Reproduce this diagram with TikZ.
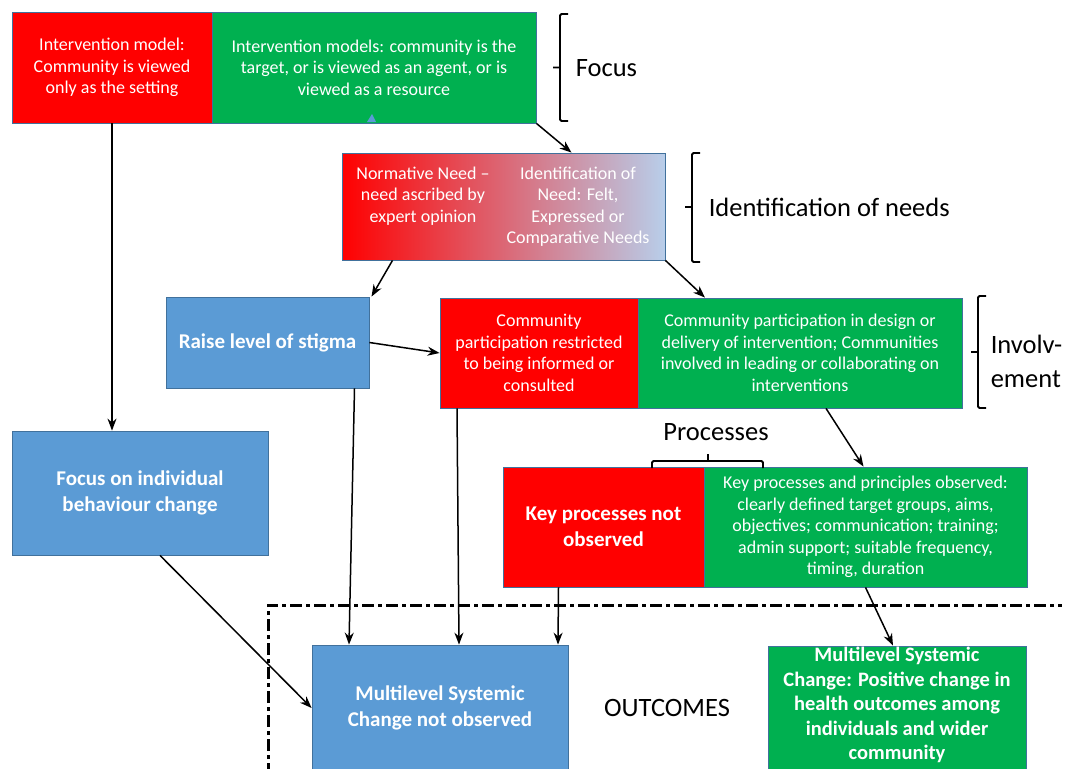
\documentclass[tikz,border=0pt]{standalone}
\usepackage{fontspec}
\setmainfont{Carlito}
\usetikzlibrary{arrows.meta}
\definecolor{boxred}{RGB}{255,0,0}
\definecolor{boxgreen}{RGB}{0,176,80}
\definecolor{boxblue}{RGB}{91,155,213}
\definecolor{boxedge}{RGB}{65,113,156}
\definecolor{paleblue}{RGB}{184,206,234}
\begin{document}
\begin{tikzpicture}[
  x=1pt, y=-1pt,
  box/.style={draw=boxedge,line width=0.8pt,inner sep=0pt,align=center,
    text=white,font=\fontsize{18}{21.5}\selectfont},
  redbox/.style={box,fill=boxred},
  greenbox/.style={box,fill=boxgreen},
  bluebox/.style={box,fill=boxblue,font=\fontsize{21}{25.5}\selectfont\bfseries},
  boldtext/.style={font=\fontsize{21}{25.5}\selectfont\bfseries},
  side/.style={font=\fontsize{26.5}{34}\selectfont,align=left,inner sep=0pt},
  bracket/.style={-,line width=1.8pt,rounded corners=1.5pt},
  ->, >={Stealth[length=12pt,width=9pt]}, line width=1.5pt
]
  \clip (0,0) rectangle (1065,768);
  \fill[white] (0,0) rectangle (1065,768);

  % focus row
  \node[redbox,minimum width=200,minimum height=111] (setting) at (112,67.5)
    {Intervention model:\\Community is viewed\\only as the setting};
  \node[greenbox,minimum width=324,minimum height=111] (models) at (374,67.5)
    {Intervention models: community is the\\target, or is viewed as an agent, or is\\viewed as a resource};
  \fill[boxblue] (367,122) -- (372,114) -- (376,122) -- cycle;

  % needs
  \node[box,left color=boxred,right color=paleblue,minimum width=323,minimum height=107]
    (needs) at (503.5,206.5) {};
  \node[align=center,text=white,inner sep=0pt,font=\fontsize{18}{21.5}\selectfont]
    (normative) at (423,196) {Normative Need --\\need ascribed by\\expert opinion};
  \node[align=center,text=white,inner sep=0pt,font=\fontsize{18}{21.5}\selectfont]
    (felt) at (578,206.5) {Identification of\\Need: Felt,\\Expressed or\\Comparative Needs};

  % involvement
  \node[bluebox,minimum width=203,minimum height=91] (stigma) at (267.5,342.5)
    {Raise level of stigma};
  \node[redbox,minimum width=198,minimum height=110] (consult) at (539,353)
    {Community\\participation restricted\\to being informed or\\consulted};
  \node[greenbox,minimum width=324,minimum height=110] (part) at (800,353)
    {Community participation in design or\\delivery of intervention; Communities\\involved in leading or collaborating on\\interventions};

  % processes
  \node[bluebox,minimum width=256,minimum height=124] (indiv) at (140,493)
    {Focus on individual\\behaviour change};
  \node[redbox,boldtext,minimum width=201,minimum height=120] (notobs) at (603.5,527)
    {Key processes not\\observed};
  \node[greenbox,minimum width=323,minimum height=120] (keyobs) at (865.5,527)
    {Key processes and principles observed:\\clearly defined target groups, aims,\\objectives; communication; training;\\admin support; suitable frequency,\\timing, duration};

  % outcomes
  \draw[-,line width=3pt,dash pattern=on 12pt off 4pt on 4pt off 4pt]
    (268,775) -- (268,605) -- (1062,605);
  \node[bluebox,minimum width=256,minimum height=126] (nochange) at (440,708)
    {Multilevel Systemic\\Change not observed};
  \node[greenbox,minimum width=258,minimum height=125] (posit) at (897,708.5) {};
  \node[text=white,align=center,inner sep=0pt,font=\fontsize{20.5}{24.5}\selectfont\bfseries]
    (postext) at (897,705) {Multilevel Systemic\\Change: Positive change in\\health outcomes among\\individuals and wider\\community};
  \node[side] (outcomes) at (667,708) {OUTCOMES};

  % brackets and side labels
  \draw[bracket] (568,14) -- (560,14) -- (560,121) -- (568,121) (560,67.5) -- (553,67.5);
  \node[side,anchor=west] (focus) at (575,68) {Focus};
  \draw[bracket] (700,153) -- (692,153) -- (692,262) -- (700,262) (692,207) -- (685,207);
  \node[side,anchor=west] (identif) at (708,207) {Identification of needs};
  \draw[bracket] (986,296) -- (978,296) -- (978,408) -- (986,408) (978,352) -- (971,352);
  \node[side,anchor=west] (involv) at (990,361) {Involv-\\ement};
  \draw[bracket] (652,468) -- (652,461) -- (763,461) -- (763,468) (708,461) -- (708,454);
  \node[side] (processes) at (716,432) {Processes};

  % arrows
  \draw (setting.south) -- (setting.south |- indiv.north);
  \draw (models.south east) -- ([xshift=68pt]needs.north);
  \draw ([xshift=-111pt]needs.south) -- ([xshift=104pt]stigma.north);
  \draw (needs.south east) -- ([xshift=-95pt]part.north);
  \draw (stigma.east) -- (consult.west);
  \draw ([xshift=87pt]stigma.south) -- ([xshift=-91pt]nochange.north);
  \draw ([xshift=-82pt]consult.south) -- ([xshift=19pt]nochange.north);
  \draw ([xshift=-45pt]notobs.south) -- ([xshift=118pt]nochange.north);
  \draw ([xshift=26pt]part.south) -- ([xshift=-2pt]keyobs.north);
  \draw (keyobs.south) -- ([xshift=-4pt]posit.north);
  \draw ([xshift=20pt]indiv.south) -- (nochange.west);
\end{tikzpicture}
\end{document}
